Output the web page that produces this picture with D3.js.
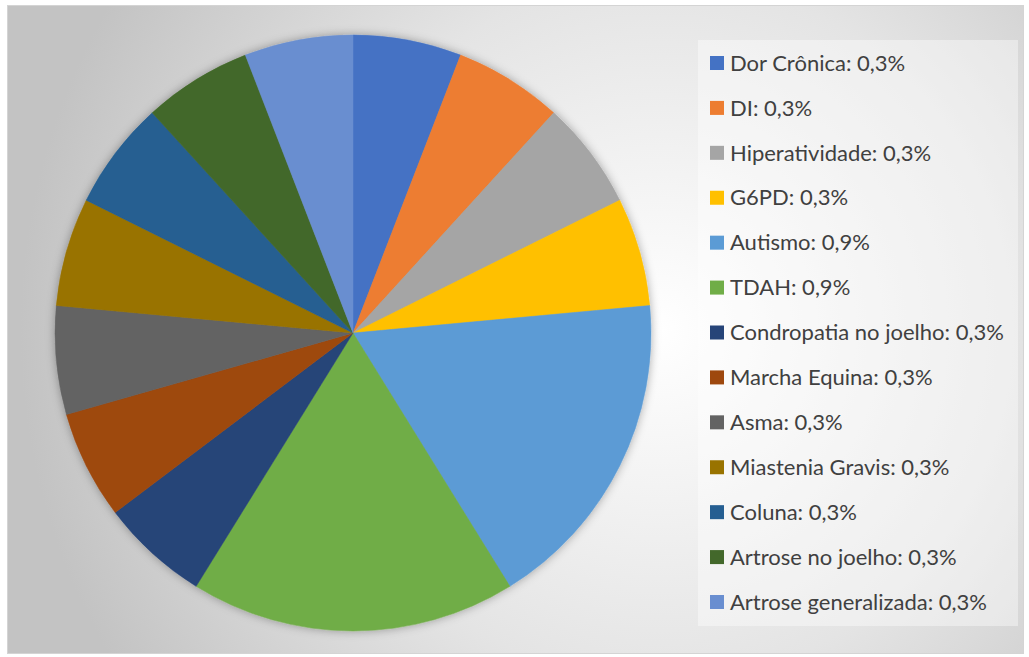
<!DOCTYPE html>
<html>
<head>
<meta charset="utf-8">
<script src="https://cdn.jsdelivr.net/npm/d3@7"></script>
<style>
  html, body { margin: 0; padding: 0; background: #ffffff; }
  svg { display: block; }
</style>
</head>
<body>
<svg id="chart" width="1029" height="657"></svg>
<script>
const categories = ["Dor Crônica", "DI", "Hiperatividade", "G6PD", "Autismo", "TDAH",
  "Condropatia no joelho", "Marcha Equina", "Asma", "Miastenia Gravis", "Coluna",
  "Artrose no joelho", "Artrose generalizada"];
const values = [0.3, 0.3, 0.3, 0.3, 0.9, 0.9, 0.3, 0.3, 0.3, 0.3, 0.3, 0.3, 0.3];
const valueLabels = ["0,3%", "0,3%", "0,3%", "0,3%", "0,9%", "0,9%", "0,3%", "0,3%", "0,3%", "0,3%", "0,3%", "0,3%", "0,3%"];
const colors = ["#4472C4", "#ED7D31", "#A5A5A5", "#FFC000", "#5B9BD5", "#70AD47",
  "#264478", "#9E480E", "#636363", "#997300", "#255E91", "#43682B", "#698ED0"];

const svg = d3.select("#chart");
const defs = svg.append("defs");

const grad = defs.append("radialGradient")
  .attr("id", "bg").attr("gradientUnits", "userSpaceOnUse")
  .attr("cx", 660).attr("cy", 330).attr("r", 640);
grad.append("stop").attr("offset", "0%").attr("stop-color", "#ffffff");
grad.append("stop").attr("offset", "55%").attr("stop-color", "#e4e4e4");
grad.append("stop").attr("offset", "100%").attr("stop-color", "#c3c3c3");

const f = defs.append("filter").attr("id", "shadow")
  .attr("x", "-10%").attr("y", "-10%").attr("width", "120%").attr("height", "120%");
f.append("feGaussianBlur").attr("in", "SourceAlpha").attr("stdDeviation", 5).attr("result", "b");
f.append("feFlood").attr("flood-color", "#000").attr("flood-opacity", 0.33).attr("result", "c");
f.append("feComposite").attr("in", "c").attr("in2", "b").attr("operator", "in").attr("result", "s");
const fm = f.append("feMerge");
fm.append("feMergeNode").attr("in", "s");
fm.append("feMergeNode").attr("in", "SourceGraphic");

// chart area
svg.append("rect").attr("x", 7.5).attr("y", 5.5).attr("width", 1016).attr("height", 648)
  .attr("fill", "url(#bg)").attr("stroke", "#d4d4d4").attr("stroke-width", 1);

// pie
const cx = 353, cy = 333, R = 298;
const pie = d3.pie().sort(null).value(d => d)(values);
const arc = d3.arc().innerRadius(0).outerRadius(R);
const g = svg.append("g").attr("transform", `translate(${cx},${cy})`).attr("filter", "url(#shadow)");
g.selectAll("path").data(pie).join("path")
  .attr("d", arc)
  .attr("fill", (d, i) => colors[i])
  .attr("stroke", (d, i) => colors[i])
  .attr("stroke-width", 0.5);

// legend box
svg.append("rect").attr("x", 698).attr("y", 40).attr("width", 320).attr("height", 586)
  .attr("fill", "#ffffff").attr("fill-opacity", 0.4);

const ly = d3.scalePoint().domain(d3.range(categories.length)).range([63, 602]);
const lg = svg.append("g");
const items = lg.selectAll("g").data(categories).join("g")
  .attr("transform", (d, i) => `translate(710,${ly(i)})`);
items.append("rect").attr("x", 0).attr("y", -7).attr("width", 14).attr("height", 14)
  .attr("fill", (d, i) => colors[i]);
items.append("text").attr("x", 20).attr("y", 0).attr("dy", "0.35em")
  .attr("font-family", "Lato, 'Open Sans', sans-serif").attr("font-size", 22)
  .attr("fill", "#404040")
  .text((d, i) => `${d}: ${valueLabels[i]}`);
</script>
</body>
</html>
